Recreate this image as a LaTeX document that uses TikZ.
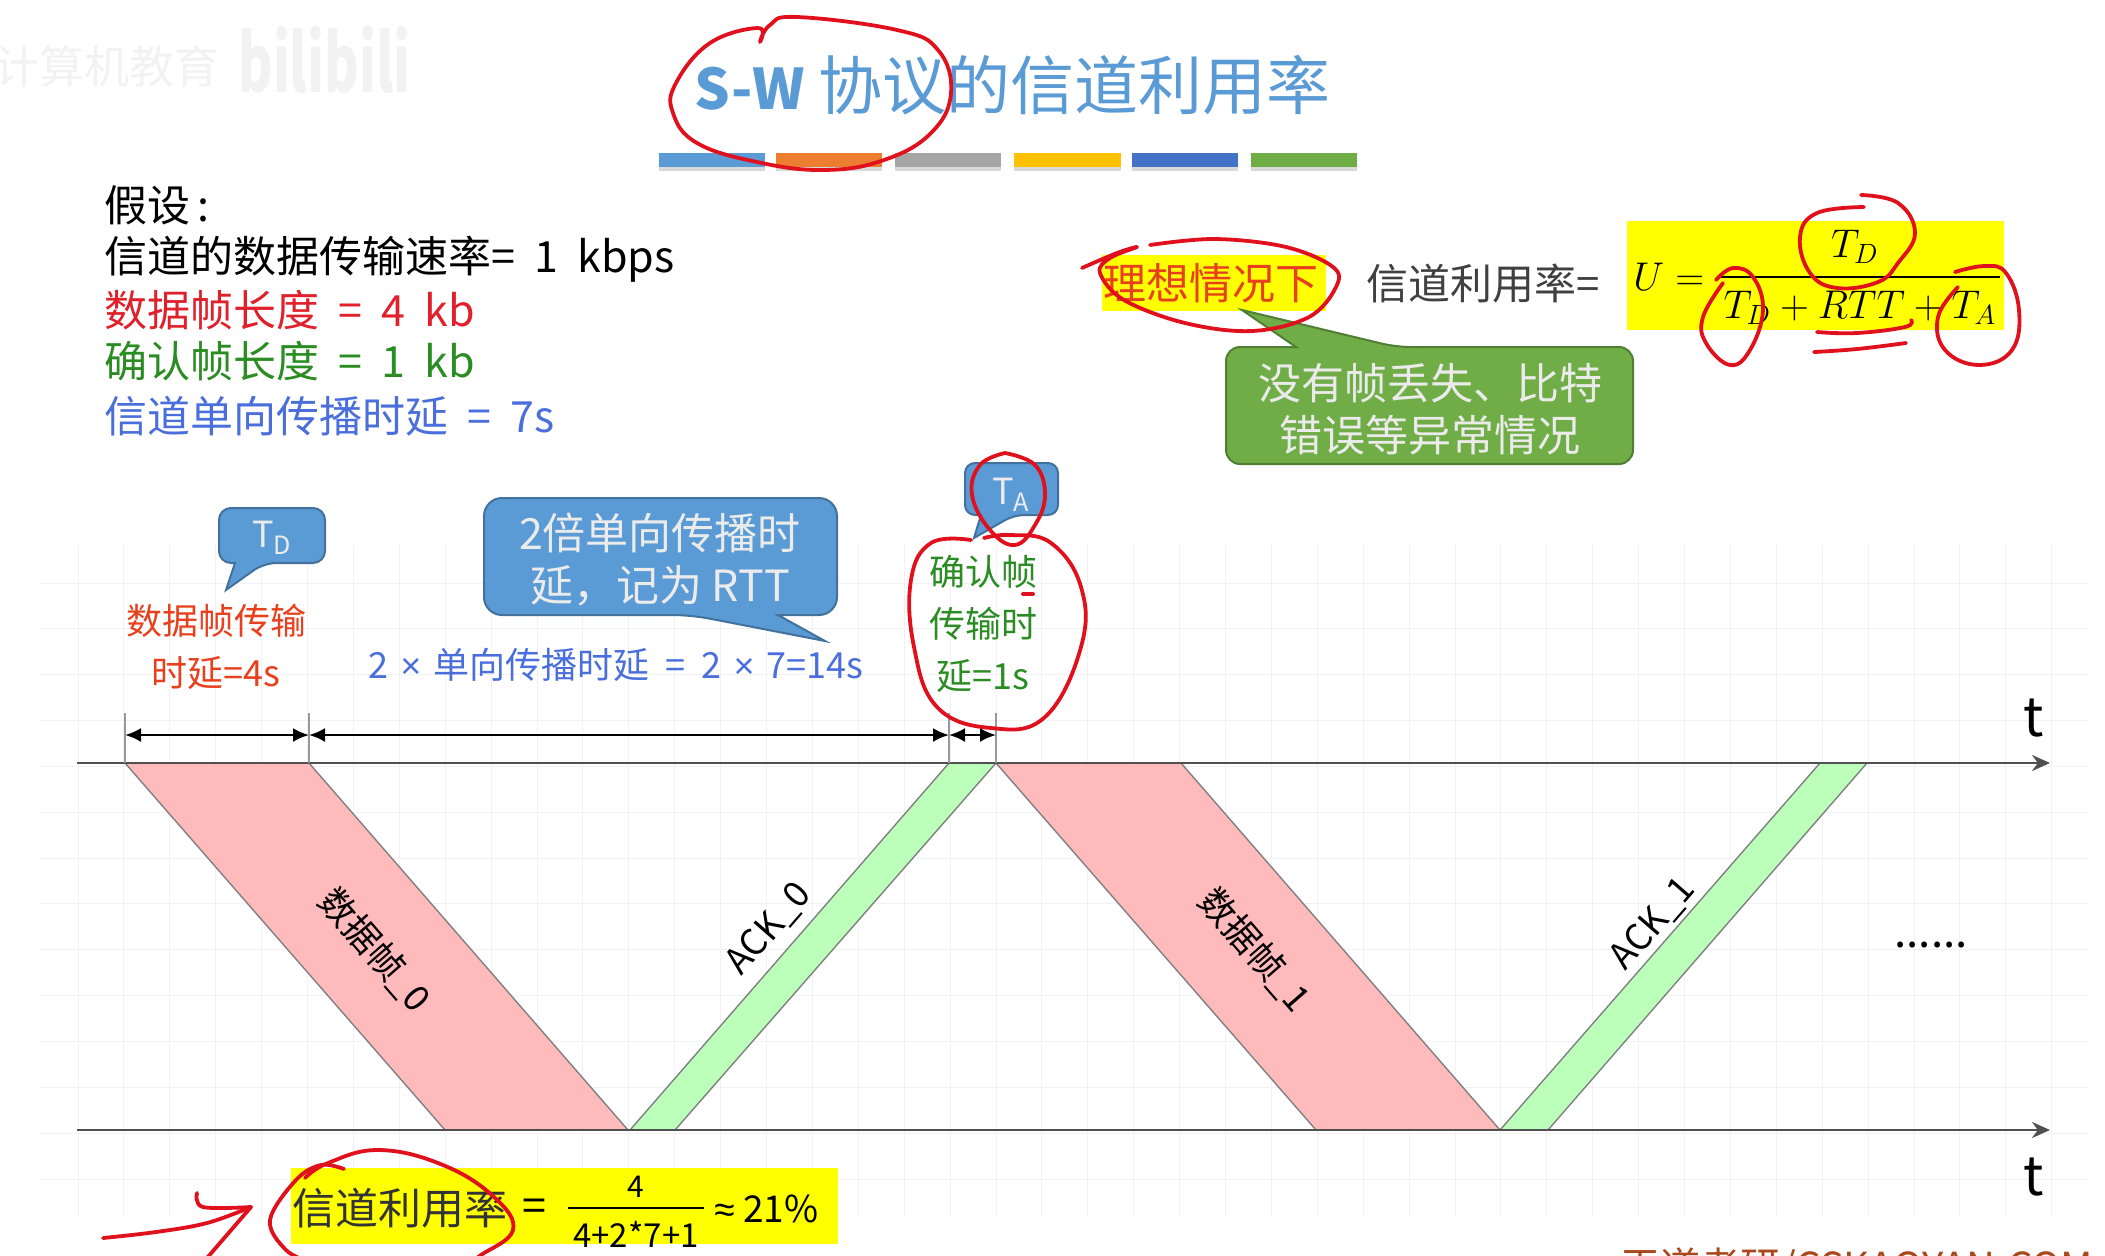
\documentclass[tikz,border=0pt]{standalone}
\usepackage{fontspec}
\setmainfont{Noto Sans CJK SC}
\newfontfamily\symfont{Liberation Sans}
\usepackage{xcolor}
\definecolor{titleblue}{HTML}{5B9BD5}
\definecolor{bubbleblue}{HTML}{5B9BD5}
\definecolor{bubbleblueline}{HTML}{41719C}
\definecolor{bubblegreen}{HTML}{70AD47}
\definecolor{bubblegreenline}{HTML}{507E32}
\definecolor{myred}{HTML}{E0202A}
\definecolor{myorange}{HTML}{E8401C}
\definecolor{mygreen}{HTML}{2A8C22}
\definecolor{myblue}{HTML}{4A6FDC}
\definecolor{inkred}{HTML}{E0101C}
\definecolor{hlyellow}{HTML}{FFFF00}
\definecolor{framered}{HTML}{FFBBBB}
\definecolor{framegreen}{HTML}{BBFFBB}
\definecolor{axisgray}{HTML}{505050}
\definecolor{brandbrown}{HTML}{A8481C}
\usepackage{tikz}
\usetikzlibrary{arrows.meta}
\tikzset{
    x=0.5pt, y=-0.5pt,
    fs/.style={ font=\fontsize{#1}{26}\selectfont },
    % Text lines
    plain/.style={ fs=21.5, anchor=west, inner sep=0 },
    midtext/.style={ fs=18, align=center, inner sep=0, text depth=0pt },
    % Math
    mathtext/.style={ fs=17.28, scale=1.16, inner sep=0 },
    % Callouts
    bluebubble/.style={ fill=bubbleblue, draw=bubbleblueline, line width=1pt },
    greenbubble/.style={ fill=bubblegreen, draw=bubblegreenline, line width=1pt },
    bubbletext/.style={ fs=21.5, text=white!92!black, align=center, inner sep=0 },
    % Time diagram
    gridline/.style={ draw=gray!10, line width=0.5pt },
    axis/.style={ -{Stealth[length=9pt, width=8pt]}, draw=axisgray, line width=1.2pt },
    tick/.style={ draw=gray!80, line width=0.9pt },
    span/.style={ {Latex[length=8pt, width=7pt]}-{Latex[length=8pt, width=7pt]}, draw=black, line width=1.2pt },
    dataframe/.style={ fill=framered, draw=gray, line width=0.7pt },
    ackframe/.style={ fill=framegreen, draw=gray, line width=0.7pt },
    framelabel/.style={ fs=18, inner sep=0 },
    % Highlight and handwriting
    highlight/.style={ fill=hlyellow, draw=none },
    ink/.style={ draw=inkred, line width=1.9pt, line cap=round, line join=round },
}

\begin{document}
\begin{tikzpicture}
    \useasboundingbox (0,0) rectangle (2105,1255);
    \clip (0,0) rectangle (2105,1255);

    % Grid
    \foreach \i in {0,...,43}
        \draw[gridline] ({78+45.9*\i},545) -- ({78+45.9*\i},1217);
    \foreach \i in {0,...,13}
        \draw[gridline] (40,{583+45.85*\i}) -- (2089,{583+45.85*\i});

    % Watermark
    \node[fs=22.5, text=gray!10, anchor=east, inner sep=0] (mark-a) at (220,66) {计算机教育};
    \node[text=gray!10, font=\fontsize{40}{44}\selectfont\bfseries, xscale=0.66, anchor=west, inner sep=0] (mark-b) at (238,60) {bilibili};

    % Title and colour bars
    \node[fs=32, text=titleblue, anchor=west, inner sep=0] (title) at (694,85) {{\fontsize{28}{30}\selectfont\textbf{S-W}} 协议的信道利用率};
    \foreach \a/\b/\c in {659/765/5B9BD5, 776/882/ED7D31, 895/1001/A5A5A5, 1014/1121/FFC000, 1132/1238/4472C4, 1251/1357/70AD47} {
        \definecolor{barcolor}{HTML}{\c}
        \fill[gray!30] (\a,157) rectangle (\b,171);
        \fill[barcolor] (\a,153) rectangle (\b,167);
    }

    % Assumptions
    \node[plain] (given) at (104,205) {假设\,:};
    \node[plain] (rate) at (104,259) {信道的数据传输速率=\ \ 1\ \ kbps};
    \node[plain, text=myred] (datalen) at (104,310) {数据帧长度\ \ =\ \ 4\ \ kb};
    \node[plain, text=mygreen] (acklen) at (104,361) {确认帧长度\ \ =\ \ 1\ \ kb};
    \node[plain, text=myblue] (delay) at (104,416) {信道单向传播时延\ \ =\ \ 7s};

    % Ideal case and formula
    \fill[highlight] (1102,255) rectangle (1326,311);
    \node[plain, text=myorange] (ideal) at (1103,283) {理想情况下};
    \node[plain, text=black!75, fs=21] (usage) at (1366,283) {信道利用率=};
    \fill[highlight] (1627,221) rectangle (2004,330);
    \node[mathtext, anchor=west] (u) at (1633,277) {$U=$};
    \coordinate (bar-a) at (1720,277);
    \coordinate (bar-b) at (2000,277);
    \draw[line width=1.3pt] (bar-a) -- (bar-b);
    \node[mathtext] (num) at (1855,247) {$T_D$};
    \node[mathtext] (den) at (1860,308) {$T_D+RTT+T_A$};

    % Green callout
    \draw[greenbubble] (1396,347) [sharp corners] -- (1242,310) -- (1296,347) [rounded corners=7pt] -- (1226,347) -- (1226,464) -- (1633,464) -- (1633,347) -- cycle;
    \node[bubbletext] (noloss) at (1430,409) {没有帧丢失、比特\\错误等异常情况};

    % Delay callouts
    \draw[bluebubble] (264,563) [sharp corners] -- (226,590) -- (235,563) [rounded corners=6pt] -- (219,563) -- (219,508) -- (325,508) -- (325,563) -- cycle;
    \node[fs=18, text=white!92!black, inner sep=0] (td) at (272,538) {T\textsubscript{D}};
    \draw[bluebubble] (691,615) [sharp corners] -- (825,641) -- (778,615) [rounded corners=9pt] -- (837,615) -- (837,498) -- (484,498) -- (484,615) -- cycle;
    \node[bubbletext] (rtt) at (660,560) {2倍单向传播时\\延，记为 RTT};
    \draw[bluebubble] (1014,515) [sharp corners] -- (974,538) -- (981,515) [rounded corners=5pt] -- (965,515) -- (965,463) -- (1058,463) -- (1058,515) -- cycle;
    \node[fs=18, text=white!92!black, inner sep=0] (ta) at (1011,495) {T\textsubscript{A}};

    % Delay texts
    \node[midtext, text=myorange] (tdtext) at (216,645) {数据帧传输\\时延=4s};
    \node[midtext, text=myblue, anchor=west] (rtttext) at (368,663) {2\hspace{6pt}{\symfont ×}\hspace{6pt}单向传播时延\ \ =\ \ 2\hspace{6pt}{\symfont ×}\hspace{6pt}7=14s};
    \node[midtext, text=mygreen] (tatext) at (983,622) {确认帧\\传输时\\延=1s};

    % Time axes and frames
    \coordinate (up-start) at (77,763);
    \coordinate (up-end) at (2050,763);
    \coordinate (low-start) at (77,1130);
    \coordinate (low-end) at (2050,1130);
    \draw[dataframe] (125,763) -- (309,763) -- (628,1130) -- (445,1130) -- cycle;
    \draw[ackframe] (949,763) -- (996,763) -- (675,1130) -- (630,1130) -- cycle;
    \draw[dataframe] (996,763) -- (1181,763) -- (1500,1130) -- (1316,1130) -- cycle;
    \draw[ackframe] (1820,763) -- (1867,763) -- (1548,1130) -- (1500,1130) -- cycle;
    \draw[axis] (up-start) -- (up-end);
    \draw[axis] (low-start) -- (low-end);
    \node[fs=27, inner sep=0] (t-up) at (2034,718) {t};
    \node[fs=27, inner sep=0] (t-low) at (2034,1177) {t};

    % Spans
    \foreach \x/\n in {125/a, 309/b, 949/c, 996/d} {
        \coordinate (top-\n) at (\x,713);
        \coordinate (foot-\n) at (\x,763);
        \coordinate (mid-\n) at (\x,735);
        \draw[tick] (top-\n) -- (foot-\n);
    }
    \draw[span] (mid-a) -- (mid-b);
    \draw[span] (mid-b) -- (mid-c);
    \draw[span] (mid-c) -- (mid-d);

    % Frame labels
    \node[framelabel, rotate=-49] (data-0) at (375,950) {数据帧\_0};
    \node[framelabel, rotate=49] (ack-0) at (769,929) {ACK\_0};
    \node[framelabel, rotate=-49] (data-1) at (1255,950) {数据帧\_1};
    \node[framelabel, rotate=49] (ack-1) at (1653,924) {ACK\_1};
    \node[fs=22, inner sep=0] (dots) at (1931,945) {......};

    % Result
    \fill[highlight] (291,1168) rectangle (838,1244);
    \node[plain, text=black!80] (result) at (292,1208) {信道利用率};
    \node[plain] (equal) at (522,1210) {=};
    \coordinate (res-a) at (568,1208);
    \coordinate (res-b) at (704,1208);
    \draw[line width=1.3pt] (res-a) -- (res-b);
    \node[fs=15, inner sep=0] (res-num) at (636,1187) {4};
    \node[fs=16.5, inner sep=0] (res-den) at (636,1234) {4+2*7+1};
    \node[fs=18.5, anchor=west, inner sep=0] (res-val) at (714,1209) {{\symfont ≈} 21\%};

    % Brand
    \node[fs=20, text=brandbrown, anchor=west, inner sep=0] (brand) at (1620,1268) {王道考研/CSKAOYAN.COM};

    % Handwriting
    \draw[ink] plot[smooth, tension=0.7] coordinates {(760,42) (758,28) (710,43) (676,83) (673,113) (697,143) (757,162) (824,170) (884,160) (931,133) (951,93) (938,50) (897,30) (797,17) (770,25) (760,42)};
    \draw[ink] plot[smooth, tension=0.6] coordinates {(1082,268) (1117,253) (1137,247) (1110,258) (1100,273) (1124,300) (1185,323) (1252,331) (1309,317) (1336,287) (1333,267) (1286,247) (1215,239) (1150,245)};
    \draw[ink] plot[smooth, tension=0.7] coordinates {(1864,207) (1817,213) (1800,237) (1810,273) (1837,288) (1878,282) (1898,263) (1915,233) (1898,203) (1861,195)};
    \draw[ink] plot[smooth, tension=0.7] coordinates {(1716,280) (1733,268) (1753,277) (1763,310) (1750,350) (1730,365) (1706,343) (1703,317) (1723,283)};
    \draw[ink] plot[smooth, tension=0.7] coordinates {(1955,272) (1985,266) (2006,273) (2019,310) (2012,350) (1979,365) (1945,350) (1938,317) (1958,287)};
    \draw[ink] plot[smooth, tension=0.7] coordinates {(1817,332) (1857,333) (1905,327) (1911,320)};
    \draw[ink] plot[smooth, tension=0.7] coordinates {(1814,352) (1857,349) (1906,343)};
    \draw[ink] plot[smooth, tension=0.7] coordinates {(1005,453) (1035,465) (1045,495) (1035,525) (1015,545) (990,530) (972,495) (980,465) (1005,453)};
    \draw[ink] plot[smooth, tension=0.7] coordinates {(971,540) (931,543) (911,580) (914,647) (937,707) (991,728) (1045,717) (1081,647) (1081,587) (1051,543) (1011,535) (984,538)};
    \draw[ink] (1023,594) -- (1033,594);
    \draw[ink] plot[smooth, tension=0.6] coordinates {(344,1169) (321,1165) (296,1180) (270,1220) (286,1250) (310,1262)};
    \draw[ink] plot[smooth, tension=0.7] coordinates {(305,1178) (328,1163) (379,1150) (443,1165) (494,1197) (513,1230) (481,1255) (470,1262)};
    \draw[ink] plot[smooth, tension=0.6] coordinates {(103,1238) (156,1232) (207,1223) (251,1207)};
    \draw[ink] plot[smooth, tension=0.6] coordinates {(197,1193) (203,1207) (251,1207)};
    \draw[ink] (251,1207) -- (207,1258);
\end{tikzpicture}
\end{document}
